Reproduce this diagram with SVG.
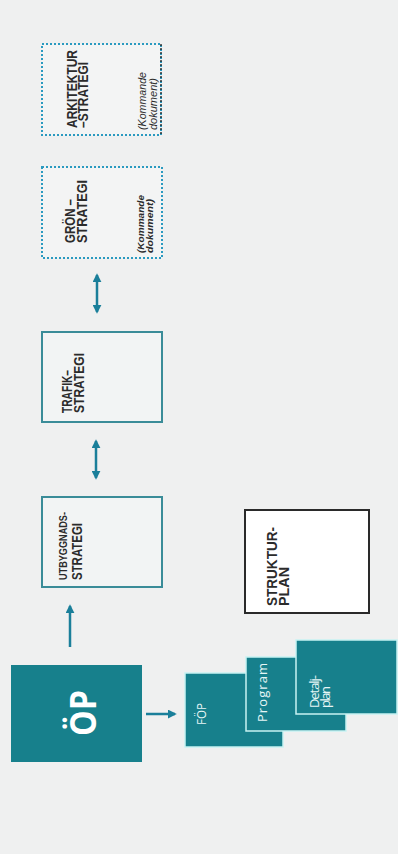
<svg xmlns="http://www.w3.org/2000/svg" width="398" height="854" viewBox="0 0 398 854">
<defs>
<style>
.bg{fill:#eff0f0}
.teal{fill:#17808c}
.stack{fill:#17808c;stroke:#c8f2f2;stroke-width:1.5}
.solid{fill:#f2f4f4;stroke:#3a8c98;stroke-width:2}
.dotted{fill:#f3f4f4;stroke:#2a9ac0;stroke-width:2;stroke-dasharray:2 2}
.dark{fill:#ffffff;stroke:#2a2a2a;stroke-width:2}
.t{font-family:"Liberation Sans",Arial,sans-serif;fill:#2b2b2b;font-weight:bold}
.w{font-family:"Open Sans","Liberation Sans",sans-serif;fill:#e6f6f6}
.i{font-family:"Liberation Sans",Arial,sans-serif;fill:#2b2b2b;font-style:italic;font-weight:bold;font-size:9px}
.conn{stroke:#1a7f9a;stroke-width:2.5;fill:none}
</style>
<marker id="ah" viewBox="0 0 10 10" refX="8" refY="5" markerWidth="3.6" markerHeight="3.6" orient="auto-start-reverse">
<path d="M0,0 L10,5 L0,10 z" fill="#1a7f9a"/>
</marker>
</defs>
<rect class="bg" x="0" y="0" width="398" height="854"/>

<g id="connectors">
<line class="conn" x1="146" y1="714" x2="175" y2="714" marker-end="url(#ah)"/>
<line class="conn" x1="70" y1="647" x2="70" y2="606" marker-end="url(#ah)"/>
<line class="conn" x1="96" y1="441" x2="96" y2="478" marker-start="url(#ah)" marker-end="url(#ah)"/>
<line class="conn" x1="97" y1="275" x2="97" y2="312" marker-start="url(#ah)" marker-end="url(#ah)"/>
</g>

<g id="op">
<rect class="teal" x="11" y="665" width="131" height="97"/>
<text class="w" transform="translate(96,713) rotate(-90)" text-anchor="middle" font-size="36" font-weight="bold" textLength="46" lengthAdjust="spacingAndGlyphs" style="fill:#ffffff">ÖP</text>
</g>

<g id="fop">
<rect class="stack" x="185" y="673" width="98" height="74"/>
<text class="w" transform="translate(206,725) rotate(-90)" font-size="12" textLength="22" lengthAdjust="spacingAndGlyphs">FÖP</text>
</g>

<g id="program">
<rect class="stack" x="246" y="657" width="100" height="74"/>
<text class="w" transform="translate(267,722) rotate(-90)" font-size="13" textLength="59" lengthAdjust="spacing">Program</text>
</g>

<g id="detaljplan">
<rect class="stack" x="296" y="640" width="101" height="74"/>
<text class="w" transform="translate(319,708) rotate(-90)" font-size="13"><tspan x="0" y="0" textLength="33" lengthAdjust="spacing">Detalj-</tspan><tspan x="0" y="11" textLength="22" lengthAdjust="spacing">plan</tspan></text>
</g>

<g id="strukturplan">
<rect class="dark" x="245" y="510" width="124" height="103"/>
<text class="t" transform="translate(277,606) rotate(-90)" font-size="15"><tspan x="0" y="0" textLength="79" lengthAdjust="spacingAndGlyphs">STRUKTUR-</tspan><tspan x="0" y="12" textLength="39" lengthAdjust="spacingAndGlyphs">PLAN</tspan></text>
</g>

<g id="utbyggnadsstrategi">
<rect class="solid" x="42" y="497" width="120" height="90"/>
<text class="t" transform="translate(67,580) rotate(-90)"><tspan x="0" y="0" font-size="10" textLength="68" lengthAdjust="spacingAndGlyphs">UTBYGGNADS-</tspan><tspan x="0" y="15" font-size="14" textLength="57" lengthAdjust="spacingAndGlyphs">STRATEGI</tspan></text>
</g>

<g id="trafikstrategi">
<rect class="solid" x="42" y="332" width="120" height="90"/>
<text class="t" transform="translate(72,413) rotate(-90)" font-size="14"><tspan x="0" y="0" textLength="43" lengthAdjust="spacingAndGlyphs">TRAFIK–</tspan><tspan x="0" y="12" textLength="60" lengthAdjust="spacingAndGlyphs">STRATEGI</tspan></text>
</g>

<g id="gronstrategi">
<rect class="dotted" x="42" y="167" width="120" height="91"/>
<text class="t" transform="translate(75,243) rotate(-90)" font-size="14"><tspan x="0" y="0" textLength="44" lengthAdjust="spacingAndGlyphs">GRÖN –</tspan><tspan x="0" y="12" textLength="63" lengthAdjust="spacingAndGlyphs">STRATEGI</tspan></text>
<text class="i" transform="translate(144,253) rotate(-90)"><tspan x="0" y="0" textLength="58" lengthAdjust="spacingAndGlyphs">(Kommande</tspan><tspan x="0" y="9" textLength="54" lengthAdjust="spacingAndGlyphs">dokument)</tspan></text>
</g>

<g id="arkitekturstrategi">
<rect class="dotted" x="42" y="44" width="119" height="91"/>
<line x1="161" y1="44" x2="161" y2="135" stroke="#2a2a2a" stroke-width="2" stroke-dasharray="2 2" opacity="0.7"/>
<text class="t" transform="translate(77,128) rotate(-90)" font-size="14"><tspan x="0" y="0" textLength="78" lengthAdjust="spacingAndGlyphs">ARKITEKTUR</tspan><tspan x="0" y="11" textLength="66" lengthAdjust="spacingAndGlyphs">–STRATEGI</tspan></text>
<text class="i" transform="translate(146,130) rotate(-90)" style="font-size:10px;font-weight:normal"><tspan x="0" y="0" textLength="58" lengthAdjust="spacingAndGlyphs">(Kommande</tspan><tspan x="0" y="11" textLength="52" lengthAdjust="spacingAndGlyphs">dokument)</tspan></text>
</g>
</svg>
